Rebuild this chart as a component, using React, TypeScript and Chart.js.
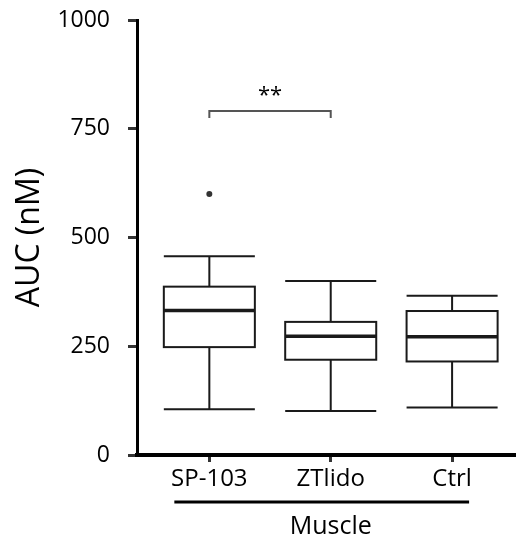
import React, { useEffect, useRef } from "react";
import { Chart, registerables } from "chart.js";

Chart.register(...registerables);

const categories = ["SP-103", "ZTlido", "Ctrl"];
const whiskerLow = [105, 101, 109];
const q1 = [248, 219, 215];
const median = [332, 273, 272];
const q3 = [387, 306, 331];
const whiskerHigh = [457, 400, 366];
const outliers: number[][] = [[600], [], []];
const yTicks = [0, 250, 500, 750, 1000];
const groupLabel = "Muscle";
const sigLabel = "**";
const sigPair = [0, 1];
const sigLevel = 791;

const FONT = "'Open Sans', 'DejaVu Sans', sans-serif";

const boxPlugin = {
  id: "boxPlugin",
  afterDatasetsDraw(chart: any) {
    const ctx = chart.ctx;
    const xs = chart.scales.x;
    const ys = chart.scales.y;
    const half = xs.getPixelForValue(1.375) - xs.getPixelForValue(1);
    ctx.save();
    ctx.strokeStyle = "#1a1a1a";
    ctx.lineCap = "butt";
    categories.forEach((_, i) => {
      const x = xs.getPixelForValue(i + 1);
      const yWH = ys.getPixelForValue(whiskerHigh[i]);
      const yWL = ys.getPixelForValue(whiskerLow[i]);
      const yQ1 = ys.getPixelForValue(q1[i]);
      const yQ3 = ys.getPixelForValue(q3[i]);
      const yM = ys.getPixelForValue(median[i]);
      ctx.lineWidth = 2;
      ctx.beginPath();
      ctx.moveTo(x, yWH);
      ctx.lineTo(x, yQ3);
      ctx.moveTo(x, yQ1);
      ctx.lineTo(x, yWL);
      ctx.moveTo(x - half, yWH);
      ctx.lineTo(x + half, yWH);
      ctx.moveTo(x - half, yWL);
      ctx.lineTo(x + half, yWL);
      ctx.stroke();
      ctx.strokeRect(x - half, yQ3, half * 2, yQ1 - yQ3);
      ctx.lineWidth = 3.5;
      ctx.beginPath();
      ctx.moveTo(x - half, yM);
      ctx.lineTo(x + half, yM);
      ctx.stroke();
    });

    // significance bracket
    const xa = xs.getPixelForValue(sigPair[0] + 1);
    const xb = xs.getPixelForValue(sigPair[1] + 1);
    const yS = ys.getPixelForValue(sigLevel);
    ctx.strokeStyle = "#555";
    ctx.lineWidth = 2;
    ctx.beginPath();
    ctx.moveTo(xa, yS + 7);
    ctx.lineTo(xa, yS);
    ctx.lineTo(xb, yS);
    ctx.lineTo(xb, yS + 7);
    ctx.stroke();
    ctx.fillStyle = "#000";
    ctx.font = `22px ${FONT}`;
    ctx.textAlign = "center";
    ctx.textBaseline = "alphabetic";
    ctx.fillText(sigLabel, (xa + xb) / 2, yS - 9);

    // group line and label
    const x0 = xs.getPixelForValue(1);
    const x2 = xs.getPixelForValue(categories.length);
    const xMid = xs.getPixelForValue((categories.length + 1) / 2);
    const yLine = xs.bottom - 37;
    ctx.strokeStyle = "#000";
    ctx.lineWidth = 3;
    ctx.beginPath();
    ctx.moveTo(x0 - 35, yLine);
    ctx.lineTo(x2 + 17, yLine);
    ctx.stroke();
    ctx.font = `25px ${FONT}`;
    ctx.textBaseline = "middle";
    ctx.fillText(groupLabel, xMid, xs.bottom - 12);
    ctx.restore();
  },
};

export default function App() {
  const ref = useRef<HTMLCanvasElement>(null);
  useEffect(() => {
    if (!ref.current) return;
    const outlierPoints: { x: number; y: number }[] = [];
    outliers.forEach((arr, i) => arr.forEach((v) => outlierPoints.push({ x: i + 1, y: v })));
    const chart = new Chart(ref.current, {
      type: "scatter",
      data: {
        datasets: [
          {
            data: outlierPoints,
            pointRadius: 3,
            pointBackgroundColor: "#333",
            pointBorderWidth: 0,
            borderWidth: 0,
          },
        ],
      },
      options: {
        animation: false,
        responsive: true,
        maintainAspectRatio: false,
        layout: { padding: { top: 20, right: 0, left: 0, bottom: 0 } },
        plugins: { legend: { display: false }, tooltip: { enabled: false } },
        scales: {
          x: {
            type: "linear",
            position: "bottom",
            min: 0.404,
            max: 3.51,
            afterBuildTicks: (scale: any) => {
              scale.ticks = categories.map((_, i) => ({ value: i + 1 }));
            },
            afterFit: (scale: any) => {
              scale.height = 84;
              scale.paddingLeft = 0;
              scale.paddingRight = 0;
            },
            ticks: {
              autoSkip: false,
              maxRotation: 0,
              padding: 3,
              color: "#000",
              font: { family: FONT, size: 24 },
              callback: (v: any) => categories[Math.round(Number(v)) - 1] ?? "",
            },
            grid: {
              drawOnChartArea: false,
              drawTicks: true,
              tickLength: 7,
              color: "#333",
              lineWidth: 3,
            },
            border: { display: true, color: "#000", width: 4 },
          },
          y: {
            type: "linear",
            min: 0,
            max: 1000,
            afterBuildTicks: (scale: any) => {
              scale.ticks = yTicks.map((v) => ({ value: v }));
            },
            afterFit: (scale: any) => {
              scale.width = 137;
              scale.paddingTop = 0;
              scale.paddingBottom = 0;
            },
            ticks: {
              padding: 18,
              color: "#000",
              font: { family: FONT, size: 23 },
              callback: (v: any) => String(v),
            },
            grid: {
              drawOnChartArea: false,
              drawTicks: true,
              tickLength: 9,
              color: "#333",
              lineWidth: 3,
            },
            border: { display: true, color: "#000", width: 3 },
            title: {
              display: true,
              text: "AUC (nM)",
              color: "#000",
              font: { family: FONT, size: 32 },
              padding: { top: 11, bottom: 0 },
            },
          },
        },
      },
      plugins: [boxPlugin],
    });
    return () => chart.destroy();
  }, []);
  return (
    <div style={{ position: "fixed", left: 0, top: 0, width: 518, height: 539, background: "#fff" }}>
      <canvas ref={ref} />
    </div>
  );
}
